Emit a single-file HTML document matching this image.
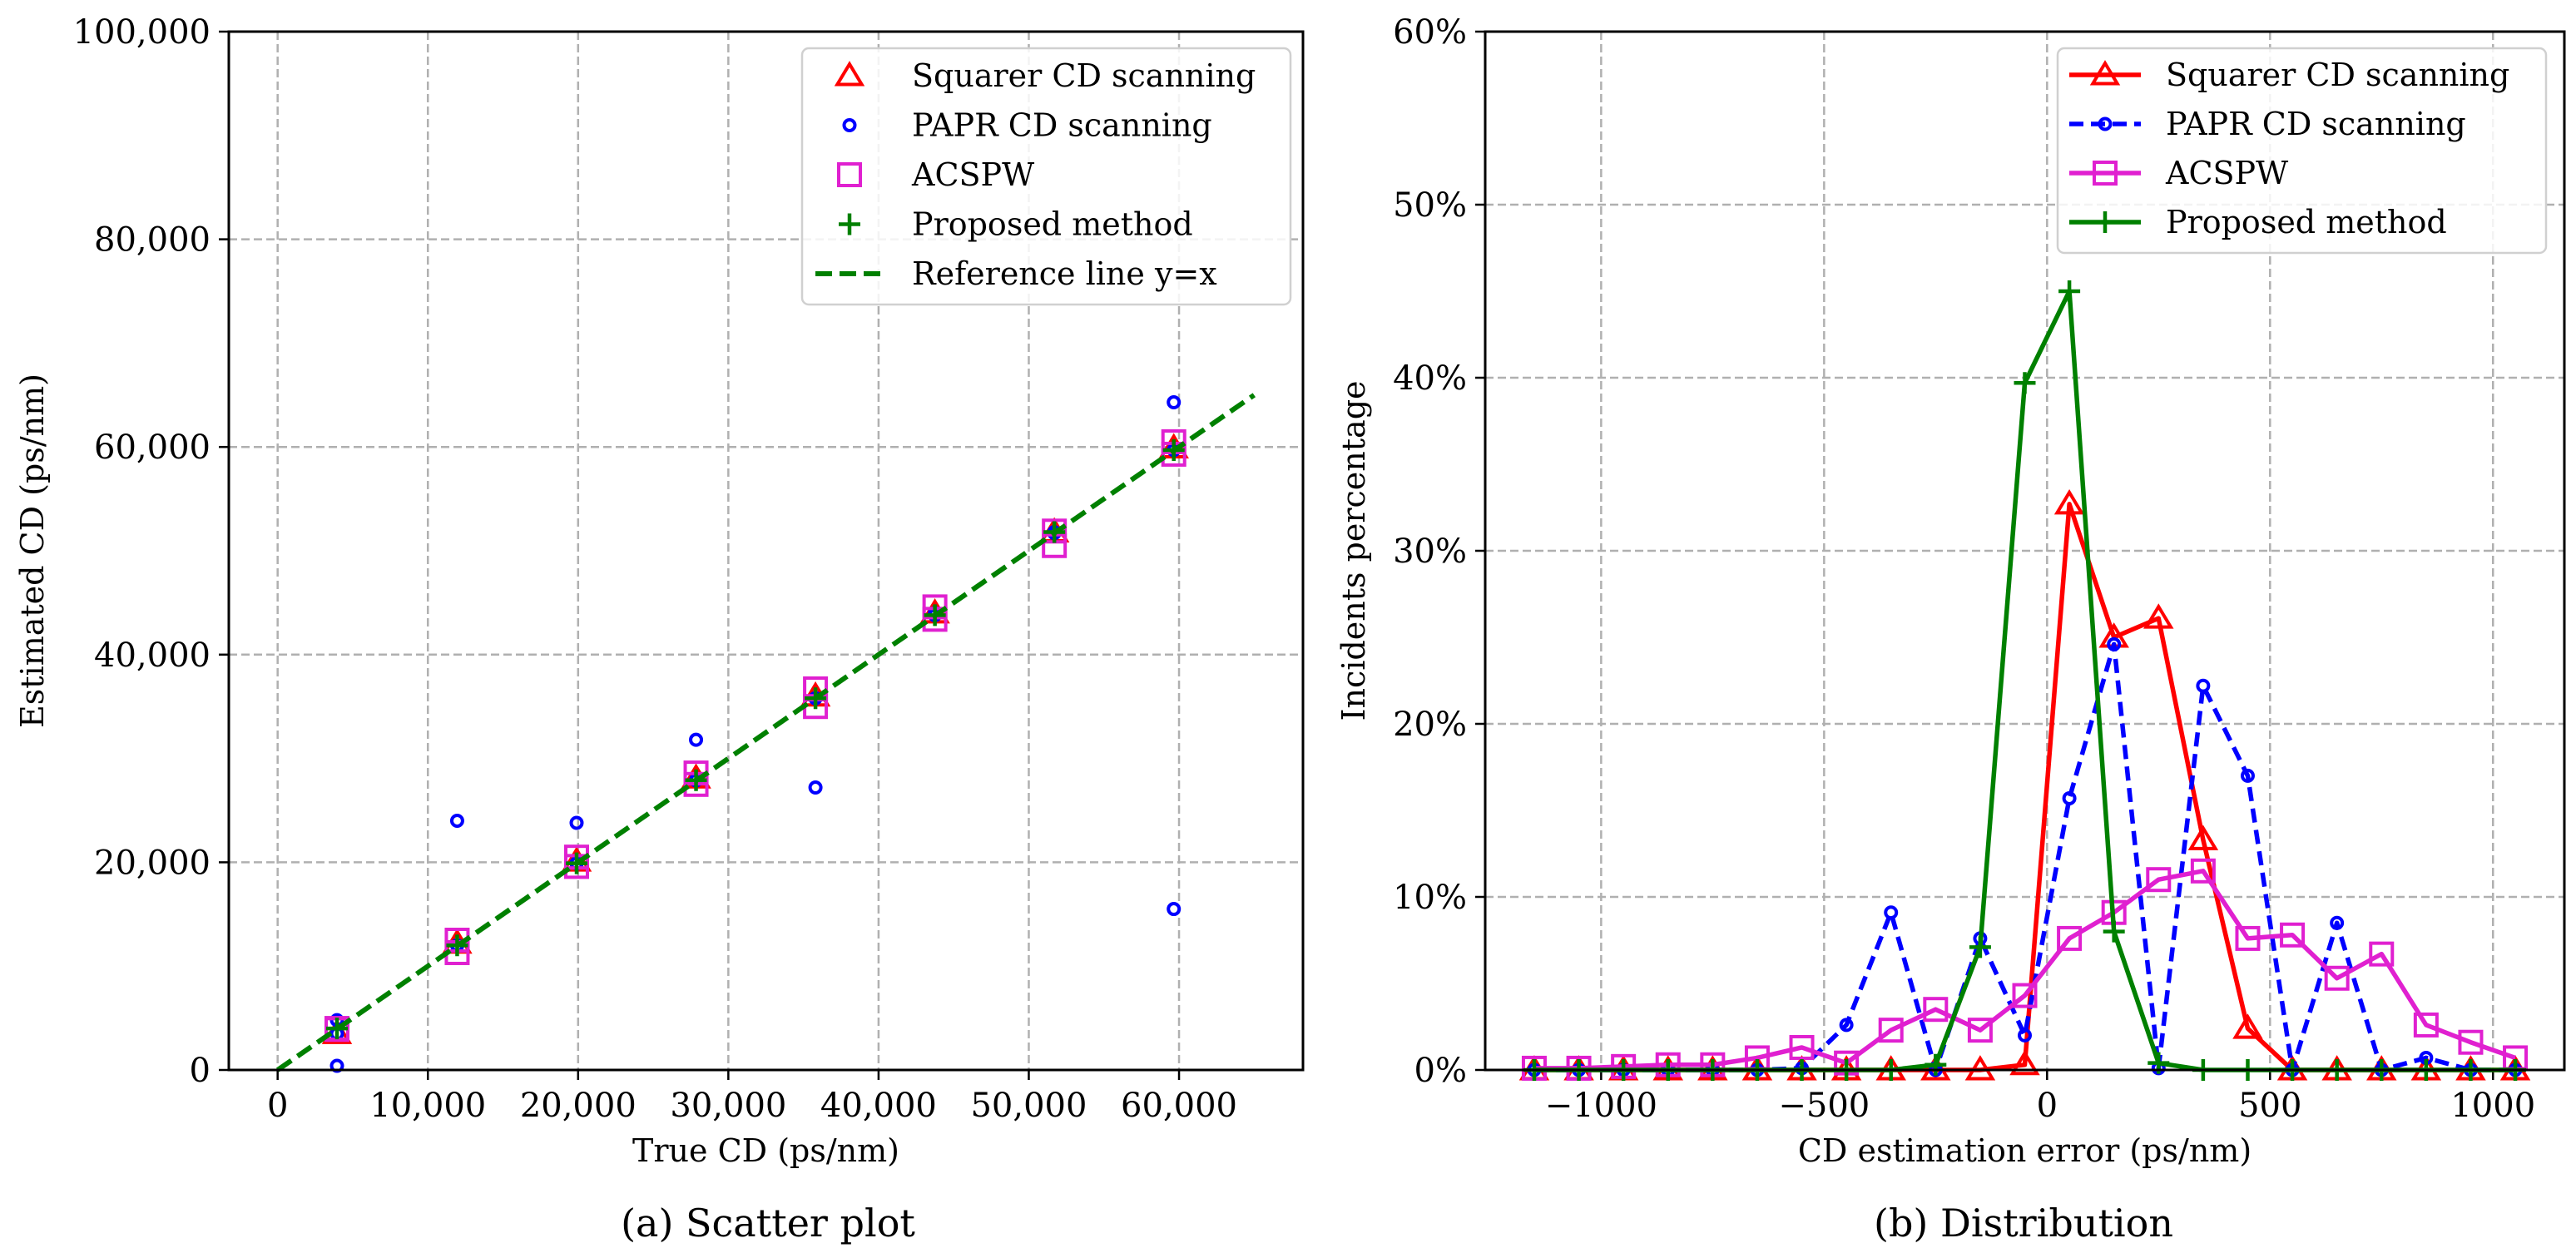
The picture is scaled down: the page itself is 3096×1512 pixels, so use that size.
<!DOCTYPE html>
<html><head><meta charset="utf-8">
<style>
html,body{margin:0;padding:0;background:#fff;}
svg{display:block;font-family:"DejaVu Serif","Liberation Serif",serif;}
</style></head>
<body>
<svg id="fig" width="3096" height="1512" viewBox="0 0 3096 1512" xmlns="http://www.w3.org/2000/svg"></svg>
<script>
// ---- Scatter plot data ----
const trueCD = [3950, 11950, 19900, 27850, 35800, 43750, 51700, 59650];
const squarerEst = [3500, 12200, 20100, 28100, 36000, 44000, 51800, 59900];
const paprEstA = [4800, 24000, 23800, 31800, 27200, 44000, 51800, 64300];
const paprEstB = [3500, 12000, 19900, 27900, 35800, 43800, 51700, 15500];
const paprEstC = [400, 12000, 19900, 27900, 35800, 43800, 51700, 59700];
const acspwEstA = [4000, 12500, 20500, 28600, 36700, 44600, 51900, 60500];
const acspwEstB = [3900, 11300, 19600, 27500, 35000, 43400, 50500, 59300];
const proposedEst = [4000, 12000, 19900, 27900, 35800, 43800, 51800, 59700];
const scatterXTicks = [0, 10000, 20000, 30000, 40000, 50000, 60000];
const scatterYTicks = [0, 20000, 40000, 60000, 80000, 100000];
// ---- Distribution data ----
const errBins = [-1150,-1050,-950,-850,-750,-650,-550,-450,-350,-250,-150,-50,50,150,250,350,450,550,650,750,850,950,1050];
const squarerPct = [0,0,0,0,0,0,0,0,0,0,0,0.3,32.7,25.0,26.1,13.3,2.4,0,0,0,0,0,0];
const paprPct = [0,0,0,0,0,0,0.1,2.6,9.1,0,7.6,2.0,15.7,24.6,0.1,22.2,17.0,0,8.5,0,0.7,0,0];
const acspwPct = [0.1,0.1,0.2,0.3,0.3,0.7,1.3,0.4,2.3,3.5,2.3,4.3,7.6,9.1,11.0,11.5,7.6,7.8,5.3,6.7,2.6,1.6,0.7];
const proposedPct = [0,0,0,0,0,0,0,0,0,0.3,7.1,39.7,45.0,8.0,0.4,0,0,0,0,0,0,0,0];
const distXTicks = [-1000, -500, 0, 500, 1000];
const distYTicks = [0, 10, 20, 30, 40, 50, 60];

const NS = "http://www.w3.org/2000/svg";
const svg = document.getElementById('fig');
function el(tag, attrs, parent, text){
  const e = document.createElementNS(NS, tag);
  for (const k in attrs) e.setAttribute(k, attrs[k]);
  if (text !== undefined) e.textContent = text;
  (parent || svg).appendChild(e);
  return e;
}
function marker(g, type, x, y, color){
  let m;
  if (type === 'tri') {
    const s = 14;
    m = el('polygon', {points:`${x},${y-s} ${x-s*1.05},${y+s*0.75} ${x+s*1.05},${y+s*0.75}`, fill:'none', stroke:color, 'stroke-width':4}, g);
  } else if (type === 'circ') {
    m = el('circle', {cx:x, cy:y, r:6.5, fill:'none', stroke:color, 'stroke-width':4}, g);
  } else if (type === 'sq') {
    m = el('rect', {x:x-13, y:y-13, width:26, height:26, fill:'none', stroke:color, 'stroke-width':4}, g);
  } else if (type === 'plus') {
    m = el('path', {d:`M${x-13},${y}H${x+13}M${x},${y-13}V${y+13}`, stroke:color, 'stroke-width':4.5, fill:'none'}, g);
  }
  return m;
}

// ================= Panel A =================
const A = {l:275, r:1566, t:38, b:1286, xmin:-3250, xmax:68250, ymin:0, ymax:100000};
const ax = v => A.l + (v - A.xmin)/(A.xmax - A.xmin)*(A.r - A.l);
const ay = v => A.b - (v - A.ymin)/(A.ymax - A.ymin)*(A.b - A.t);
const gA = el('g', {});


const gridA = el('g', {}, gA);


scatterXTicks.forEach(v => {
  el('line', {x1:ax(v), x2:ax(v), y1:A.t, y2:A.b, stroke:'#b0b0b0', 'stroke-width':2.5, 'stroke-dasharray':'10,5'}, gridA);
  el('line', {x1:ax(v), x2:ax(v), y1:A.b, y2:A.b+12, stroke:'#000', 'stroke-width':2.5}, gA);
  const t = el('text', {x:ax(v), y:A.b+56, 'font-size':40, 'text-anchor':'middle', fill:'#000'}, gA, v.toLocaleString('en-US'));
  
  
});
scatterYTicks.forEach(v => {
  el('line', {x1:A.l, x2:A.r, y1:ay(v), y2:ay(v), stroke:'#b0b0b0', 'stroke-width':2.5, 'stroke-dasharray':'10,5'}, gridA);
  el('line', {x1:A.l-12, x2:A.l, y1:ay(v), y2:ay(v), stroke:'#000', 'stroke-width':2.5}, gA);
  const t = el('text', {x:A.l-22, y:ay(v)+14, 'font-size':40, 'text-anchor':'end', fill:'#000'}, gA, v.toLocaleString('en-US'));
  
  
});
trueCD.forEach((x,i) => {
  marker(gA, 'tri', ax(x), ay(squarerEst[i]), '#ff0000');
});
trueCD.forEach((x,i) => {
  marker(gA, 'circ', ax(x), ay(paprEstA[i]), '#0000ff');
  marker(gA, 'circ', ax(x), ay(paprEstB[i]), '#0000ff');
  marker(gA, 'circ', ax(x), ay(paprEstC[i]), '#0000ff');
});
trueCD.forEach((x,i) => {
  marker(gA, 'sq', ax(x), ay(acspwEstA[i]), '#e020d0');
  marker(gA, 'sq', ax(x), ay(acspwEstB[i]), '#e020d0');
});
trueCD.forEach((x,i) => {
  marker(gA, 'plus', ax(x), ay(proposedEst[i]), '#008000');
});
const ref = el('line', {x1:ax(0), y1:ay(0), x2:ax(65000), y2:ay(65000), stroke:'#008000', 'stroke-width':6, 'stroke-dasharray':'20,9'}, gA);


el('rect', {x:A.l, y:A.t, width:A.r-A.l, height:A.b-A.t, fill:'none', stroke:'#000', 'stroke-width':3}, gA);
let t;
t = el('text', {x:(A.l+A.r)/2, y:1396, 'font-size':38, 'text-anchor':'middle'}, gA, 'True CD (ps/nm)');
 
t = el('text', {x:0, y:0, 'font-size':38, 'text-anchor':'middle', transform:'translate(52,662) rotate(-90)'}, gA, 'Estimated CD (ps/nm)');
 
t = el('text', {x:923, y:1486, 'font-size':46, 'text-anchor':'middle'}, gA, '(a) Scatter plot');
 
// legend A
const lgA = el('g', {}, gA);


el('rect', {x:964, y:58, width:587, height:308, rx:8, fill:'#fff', 'fill-opacity':0.85, stroke:'#d0d0d0', 'stroke-width':2.5}, lgA);
const legA = [['tri','#ff0000','Squarer CD scanning'],['circ','#0000ff','PAPR CD scanning'],['sq','#e020d0','ACSPW'],['plus','#008000','Proposed method'],['line','#008000','Reference line y=x']];
legA.forEach((d,i) => {
  const y = 91 + i*59.5;
  if (d[0] === 'line') el('line', {x1:980, x2:1062, y1:y, y2:y, stroke:d[1], 'stroke-width':6, 'stroke-dasharray':'20,9'}, lgA);
  else marker(lgA, d[0], 1021, y, d[1]);
  const tt = el('text', {x:1096, y:y+13, 'font-size':38}, lgA, d[2]);
  
  
});

// ================= Panel B =================
const B = {l:1785, r:3082, t:38, b:1286, xmin:-1260, xmax:1160, ymin:0, ymax:60};
const bx = v => B.l + (v - B.xmin)/(B.xmax - B.xmin)*(B.r - B.l);
const by = v => B.b - (v - B.ymin)/(B.ymax - B.ymin)*(B.b - B.t);
const gB = el('g', {});


const gridB = el('g', {}, gB);


distXTicks.forEach(v => {
  el('line', {x1:bx(v), x2:bx(v), y1:B.t, y2:B.b, stroke:'#b0b0b0', 'stroke-width':2.5, 'stroke-dasharray':'10,5'}, gridB);
  el('line', {x1:bx(v), x2:bx(v), y1:B.b, y2:B.b+12, stroke:'#000', 'stroke-width':2.5}, gB);
  const tt = el('text', {x:bx(v), y:B.b+56, 'font-size':40, 'text-anchor':'middle'}, gB, v < 0 ? '\u2212' + Math.abs(v) : String(v));
  
  
});
distYTicks.forEach(v => {
  el('line', {x1:B.l, x2:B.r, y1:by(v), y2:by(v), stroke:'#b0b0b0', 'stroke-width':2.5, 'stroke-dasharray':'10,5'}, gridB);
  el('line', {x1:B.l-12, x2:B.l, y1:by(v), y2:by(v), stroke:'#000', 'stroke-width':2.5}, gB);
  const tt = el('text', {x:B.l-22, y:by(v)+14, 'font-size':40, 'text-anchor':'end'}, gB, v + '%');
  
  
});
const seriesB = [
  {vals:squarerPct, color:'#ff0000', m:'tri', dash:null, name:'squarer-series'},
  {vals:paprPct, color:'#0000ff', m:'circ', dash:'17,9', name:'papr-series'},
  {vals:acspwPct, color:'#e020d0', m:'sq', dash:null, name:'acspw-series'},
  {vals:proposedPct, color:'#008000', m:'plus', dash:null, name:'proposed-series'}
];
seriesB.forEach(s => {
  const g = el('g', {}, gB);
  
  
  const pts = errBins.map((x,i) => bx(x) + ',' + by(s.vals[i])).join(' ');
  const attrs = {points:pts, fill:'none', stroke:s.color, 'stroke-width':5.5, 'stroke-linejoin':'round'};
  if (s.dash) attrs['stroke-dasharray'] = s.dash;
  el('polyline', attrs, g);
  errBins.forEach((x,i) => marker(g, s.m, bx(x), by(s.vals[i]), s.color));
});
el('rect', {x:B.l, y:B.t, width:B.r-B.l, height:B.b-B.t, fill:'none', stroke:'#000', 'stroke-width':3}, gB);
t = el('text', {x:(B.l+B.r)/2, y:1396, 'font-size':38, 'text-anchor':'middle'}, gB, 'CD estimation error (ps/nm)');
 
t = el('text', {x:0, y:0, 'font-size':38, 'text-anchor':'middle', transform:'translate(1640,662) rotate(-90)'}, gB, 'Incidents percentage');
 
t = el('text', {x:2432, y:1486, 'font-size':46, 'text-anchor':'middle'}, gB, '(b) Distribution');
 
const lgB = el('g', {}, gB);


el('rect', {x:2473, y:58, width:587, height:246, rx:8, fill:'#fff', 'fill-opacity':0.85, stroke:'#d0d0d0', 'stroke-width':2.5}, lgB);
const legB = [['tri','#ff0000','Squarer CD scanning',null],['circ','#0000ff','PAPR CD scanning','17,9'],['sq','#e020d0','ACSPW',null],['plus','#008000','Proposed method',null]];
legB.forEach((d,i) => {
  const y = 90 + i*59;
  const la = {x1:2487, x2:2573, y1:y, y2:y, stroke:d[1], 'stroke-width':5.5};
  if (d[3]) la['stroke-dasharray'] = d[3];
  el('line', la, lgB);
  marker(lgB, d[0], 2530, y, d[1]);
  const tt = el('text', {x:2603, y:y+13, 'font-size':38}, lgB, d[2]);
  
  
});
</script>
</body></html>
